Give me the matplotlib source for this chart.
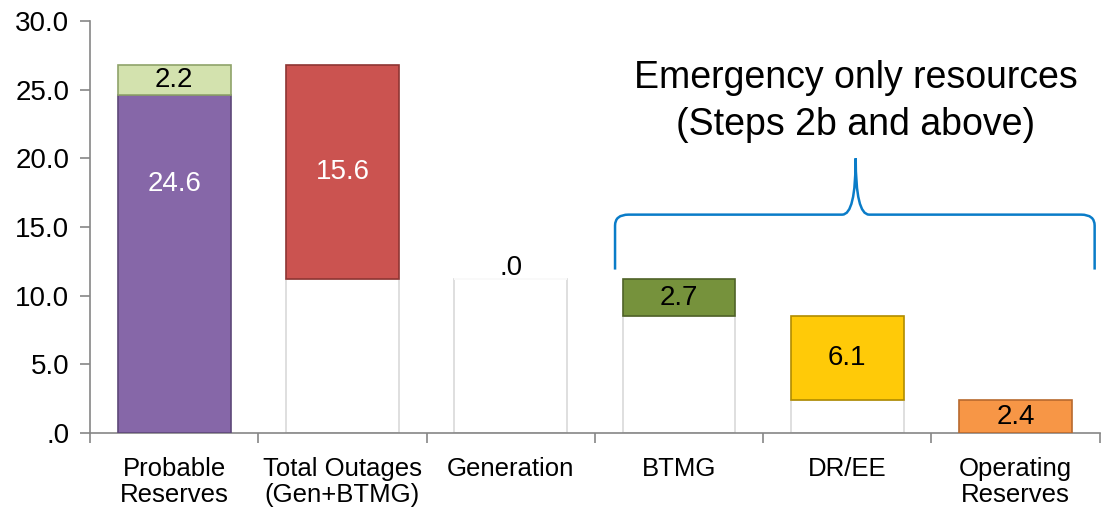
import numpy as np
import matplotlib.pyplot as plt
from matplotlib.path import Path
from matplotlib.patches import PathPatch
from matplotlib.ticker import FuncFormatter

plt.rcParams['font.family'] = ['Liberation Sans', 'DejaVu Sans']

categories = ['Probable\nReserves', 'Total Outages\n(Gen+BTMG)', 'Generation',
              'BTMG', 'DR/EE', 'Operating\nReserves']
# waterfall steps: visible segment size and the invisible base under it
base = [0.0, 11.2, 11.2, 8.5, 2.4, 0.0]
main = [24.6, 15.6, 0.0, 2.7, 6.1, 2.4]
extra_top = 2.2  # second segment stacked on Probable Reserves

main_colors = ['#8667A8', '#CB5350', '#FFFFFF', '#76923C', '#FFCA08', '#F79646']
main_edges = ['#5E4879', '#8E3533', '#FFFFFF', '#4F6228', '#B08C00', '#B8692E']
label_colors = ['white', 'white', 'black', 'black', 'black', 'black']
label_y = [18.1, 19.0, 12.0, 9.85, 5.45, 1.2]

x = np.arange(len(categories))
width = 0.67

fig = plt.figure(figsize=(11.03, 5.08), dpi=100)
ax = fig.add_axes([0.0816, 0.1476, 0.9154, 0.8111])

# invisible bases drawn as white bars with a faint outline
ax.bar(x, base, width, color='white', edgecolor='#D9D9D9', linewidth=1.2, zorder=2)
ax.bar(x, main, width, bottom=base, color=main_colors, edgecolor=main_edges,
       linewidth=1.2, zorder=3)
ax.bar(x[0], extra_top, width, bottom=base[0] + main[0], color='#D3E2AE',
       edgecolor='#8FA36A', linewidth=1.2, zorder=3)

for xi, v, yl, c in zip(x, main, label_y, label_colors):
    txt = f'{v:.1f}'
    if txt.startswith('0'):
        txt = txt[1:]
    ax.text(xi, yl, txt, ha='center', va='center', fontsize=20, color=c, zorder=5)
ax.text(x[0], base[0] + main[0] + extra_top / 2, f'{extra_top:.1f}', ha='center',
        va='center', fontsize=20, color='black', zorder=5)

# brace over the emergency-only resources
xl, xr, xm = 2.62, 5.47, 4.05
yb, yh, yt = 11.9, 15.9, 20.0
verts = [(xl, yb), (xl, yh - 0.8), (xl, yh), (xl + 0.08, yh),
         (xm - 0.08, yh), (xm, yh), (xm, yt),
         (xm, yt), (xm, yh), (xm + 0.08, yh),
         (xr - 0.08, yh), (xr, yh), (xr, yh - 0.8), (xr, yb)]
codes = [Path.MOVETO, Path.LINETO, Path.CURVE3, Path.CURVE3,
         Path.LINETO, Path.CURVE3, Path.CURVE3,
         Path.MOVETO, Path.CURVE3, Path.CURVE3,
         Path.LINETO, Path.CURVE3, Path.CURVE3, Path.LINETO]
ax.add_patch(PathPatch(Path(verts, codes), facecolor='none', edgecolor='#0A7CC8',
                       linewidth=1.8, zorder=4))
ax.text(xm, 24.15, 'Emergency only resources\n(Steps 2b and above)', ha='center',
        va='center', fontsize=27, linespacing=1.4, color='black')

ax.set_xlim(-0.5, len(categories) - 0.5)
ax.set_ylim(0, 30)
ax.set_yticks(np.arange(0, 31, 5))
ax.yaxis.set_major_formatter(FuncFormatter(lambda v, p: f'{v:.1f}'.lstrip('0') if v < 1 else f'{v:.1f}'))
ax.set_xticks(x)
ax.set_xticklabels(categories, fontsize=18.5, va='top', linespacing=1.1)
ax.set_xticks(np.arange(-0.5, len(categories)), minor=True)
ax.tick_params(axis='x', which='major', length=0, pad=17)
ax.tick_params(axis='x', which='minor', length=7, color='#868686', width=1.2)
ax.tick_params(axis='y', length=7, color='#868686', width=1.2, labelsize=20, pad=8)

for s in ['top', 'right']:
    ax.spines[s].set_visible(False)
for s in ['left', 'bottom']:
    ax.spines[s].set_color('#868686')
    ax.spines[s].set_linewidth(1.2)

fig.savefig('out.png', dpi=100, facecolor='white')
